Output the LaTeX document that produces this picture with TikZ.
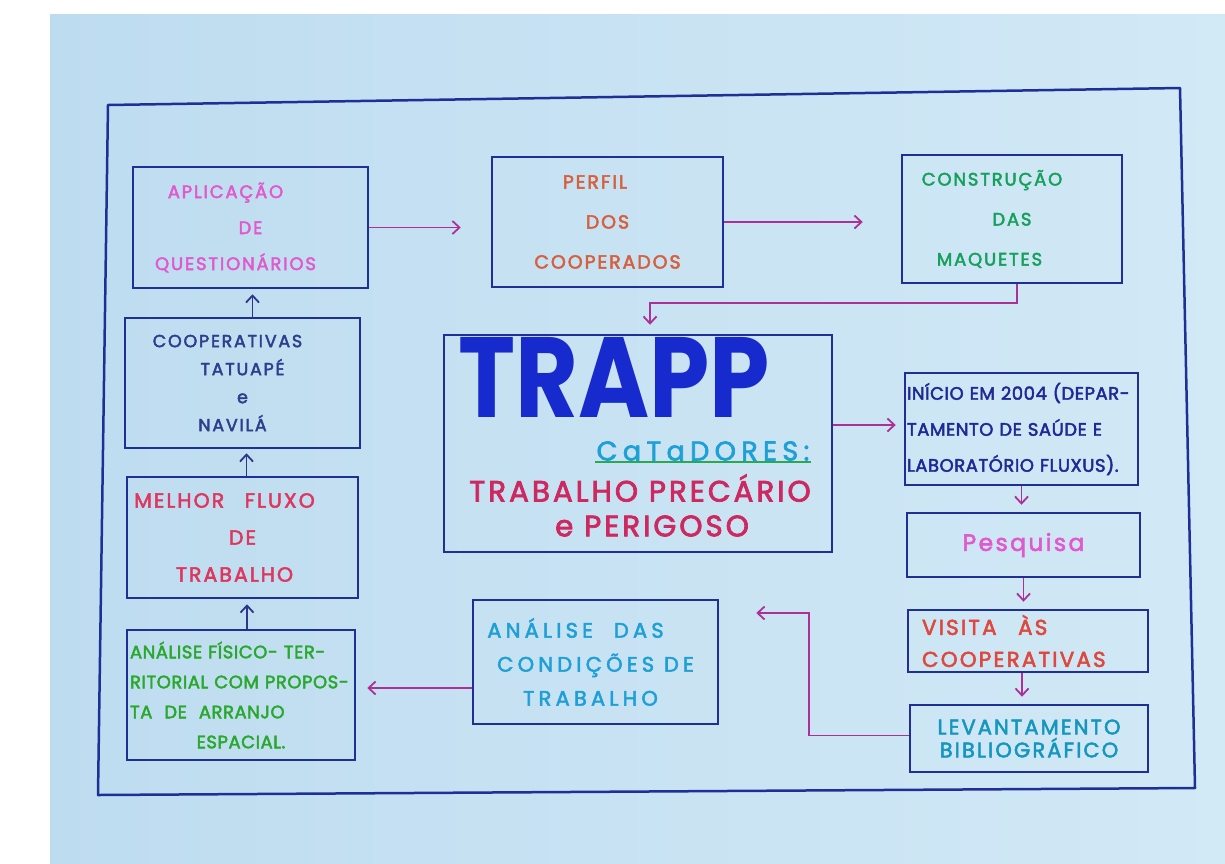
\documentclass[tikz,border=0pt]{standalone}
\usepackage{fontspec}
\setmainfont{Poppins}
\newfontfamily\hand[LetterSpace=10,FakeBold=2.5]{Poppins}
\newfontfamily\handw[LetterSpace=20,FakeBold=2.5]{Poppins}
\newfontfamily\handn[LetterSpace=3,FakeBold=2.5]{Poppins}
\usetikzlibrary{arrows.meta,calc}
\definecolor{paperL}{RGB}{190,220,240}
\definecolor{paperR}{RGB}{210,233,246}
\definecolor{navy}{RGB}{30,48,150}
\definecolor{cpink}{RGB}{224,90,205}
\definecolor{corange}{RGB}{214,96,62}
\definecolor{cgreen}{RGB}{22,160,92}
\definecolor{cblue}{RGB}{22,42,205}
\definecolor{ccyan}{RGB}{30,160,215}
\definecolor{ccrim}{RGB}{205,40,95}
\definecolor{cnavytxt}{RGB}{30,40,150}
\definecolor{cred}{RGB}{222,55,95}
\definecolor{cvis}{RGB}{222,72,62}
\definecolor{cteal}{RGB}{20,150,190}
\definecolor{cgrn2}{RGB}{40,168,45}
\definecolor{ccoop}{RGB}{45,62,140}
\definecolor{cline}{RGB}{172,48,150}
\definecolor{cup}{RGB}{45,55,135}
\definecolor{culine}{RGB}{40,170,80}
\begin{document}
\begin{tikzpicture}[x=1pt,y=-1pt,
  box/.style={draw=navy, line width=2.5pt, inner sep=0pt, align=center},
  frame/.style={draw=navy, line width=2.5pt, line join=round},
  conn/.style={draw=cline, line width=1.8pt, -{Straight Barb[length=7pt,width=13pt,line width=1.8pt]}},
  connup/.style={draw=cup, line width=1.8pt, -{Straight Barb[length=7pt,width=13pt,line width=1.8pt]}}
]
\useasboundingbox (0,0) rectangle (1225,863);
\fill[white] (0,0) rectangle (1225,863);
\shade[left color=paperL, right color=paperR] (50,14) rectangle (1225,863);
\draw[frame] (108,105) -- (1180,88) -- (1195,788) -- (98,795) -- cycle;

% boxes
\node[box, minimum width=235, minimum height=121, text=cpink,
  font=\hand\fontsize{18}{36}\selectfont] (apl) at (250.5,227.5)
  {APLICAÇÃO\hspace*{50pt}\\DE\hspace*{14pt}\\QUESTIONÁRIOS\hspace*{30pt}};
\node[box, minimum width=231, minimum height=130, text=corange,
  font=\hand\fontsize{19}{40}\selectfont] (perf) at (607.5,222)
  {PERFIL\hspace*{25pt}\\DOS\\COOPERADOS};
\node[box, minimum width=220, minimum height=128, text=cgreen,
  font=\hand\fontsize{18}{40}\selectfont] (cons) at (1012,219)
  {CONSTRUÇÃO\hspace*{40pt}\\DAS\\MAQUETES\hspace*{45pt}};
\node[box, minimum width=388, minimum height=217] (trapp) at (638,443.5) {};
\node[text=cblue, font=\bfseries\fontsize{92}{92}\selectfont, inner sep=0pt] (trappT) at (614,377)
  {\scalebox{1.05}[1.24]{TRAPP}};
\node[text=ccyan, font=\handw\fontsize{27}{27}\selectfont, inner sep=1pt] (catad) at (703,451) {CaTaDORES:};
\draw[culine, line width=2.5pt] (catad.south west) -- (catad.south east);
\node[text=ccrim, font=\hand\fontsize{29.5}{30}\selectfont, inner sep=0pt] (trab) at (640,488) {TRABALHO PRECÁRIO};
\node[text=ccrim, font=\hand\fontsize{29.5}{30}\selectfont, inner sep=0pt] (peri) at (652,526) {e PERIGOSO};

\node[box, minimum width=233, minimum height=112, text=cnavytxt, align=left, text width=229,
  font=\handn\fontsize{18}{36}\selectfont] (ini) at (1021.5,429)
  {INÍCIO EM 2004 (DEPAR-\\TAMENTO DE SAÚDE E\\LABORATÓRIO FLUXUS).};
\node[box, minimum width=233, minimum height=64, text=cpink,
  font=\hand\fontsize{23.5}{24}\selectfont] (pesq) at (1023.5,545) {Pesquisa};
\node[box, minimum width=240, minimum height=62, text=cvis, align=left, text width=212,
  font=\hand\fontsize{21.5}{32}\selectfont] (vis) at (1028,641) {VISITA\quad ÀS\\COOPERATIVAS};
\node[box, minimum width=238, minimum height=67, text=cteal,
  font=\hand\fontsize{21}{23}\selectfont] (lev) at (1029,738.5) {LEVANTAMENTO\\BIBLIOGRÁFICO};
\node[box, minimum width=245, minimum height=124, text=ccyan,
  font=\handw\fontsize{21}{34}\selectfont] (anc) at (595.5,662) {ANÁLISE\quad DAS\hspace*{40pt}\\CONDIÇÕES DE\\TRABALHO\hspace*{10pt}};
\node[box, minimum width=228, minimum height=130, text=cgrn2, align=left, text width=222,
  font=\handn\fontsize{18}{30}\selectfont] (anf) at (241,695)
  {ANÁLISE FÍSICO- TER-\\RITORIAL COM PROPOS-\\TA\ \ DE\ \ ARRANJO\\\makebox[222pt]{ESPACIAL.}};
\node[box, minimum width=231, minimum height=121, text=cred,
  font=\hand\fontsize{20.5}{37}\selectfont] (mel) at (242.5,537.5) {MELHOR\quad FLUXO\hspace*{36pt}\\DE\\TRABALHO\hspace*{16pt}};
\node[box, minimum width=235, minimum height=130, text=ccoop,
  font=\hand\fontsize{17.5}{28}\selectfont] (coop) at (242.5,383) {COOPERATIVAS\hspace*{30pt}\\TATUAPÉ\\e\hspace*{20pt}\\NAVILÁ\hspace*{20pt}};

% connectors
\draw[conn, shorten >=30pt] (apl.east) -- (apl.east -| perf.west);
\draw[conn, shorten >=38pt] (perf.east) -- (perf.east -| cons.west);
\draw[conn, shorten >=9pt] ([xshift=5pt]cons.south) -- ++(0,19) -| ([xshift=12pt]trapp.north);
\draw[conn, shorten >=8pt] ([yshift=4pt]ini.west -| trapp.east) -- ([yshift=4pt]ini.west);
\draw[conn, shorten >=7pt] (ini.south) -- (ini.south |- pesq.north);
\draw[conn, shorten >=7pt] (pesq.south) -- (pesq.south |- vis.north);
\draw[conn, shorten >=7pt] ([xshift=-6pt]vis.south) -- ([xshift=-6pt]vis.south |- lev.north);
\draw[conn, shorten >=37pt] ([yshift=3pt]lev.west) -- ++(-100,0) |- ([yshift=49pt]anc.east);
\draw[conn, shorten >=11pt] ([yshift=-26pt]anc.west) -- ([yshift=-26pt]anc.west -| anf.east);
\draw[connup, shorten >=5pt] ([xshift=6pt]anf.north) -- ([xshift=6pt]anf.north |- mel.south);
\draw[connup, shorten >=4pt] ([xshift=4pt]mel.north) -- ([xshift=4pt]mel.north |- coop.south);
\draw[connup, shorten >=5pt] ([xshift=10pt]coop.north) -- ([xshift=10pt]coop.north |- apl.south);
\end{tikzpicture}
\end{document}
